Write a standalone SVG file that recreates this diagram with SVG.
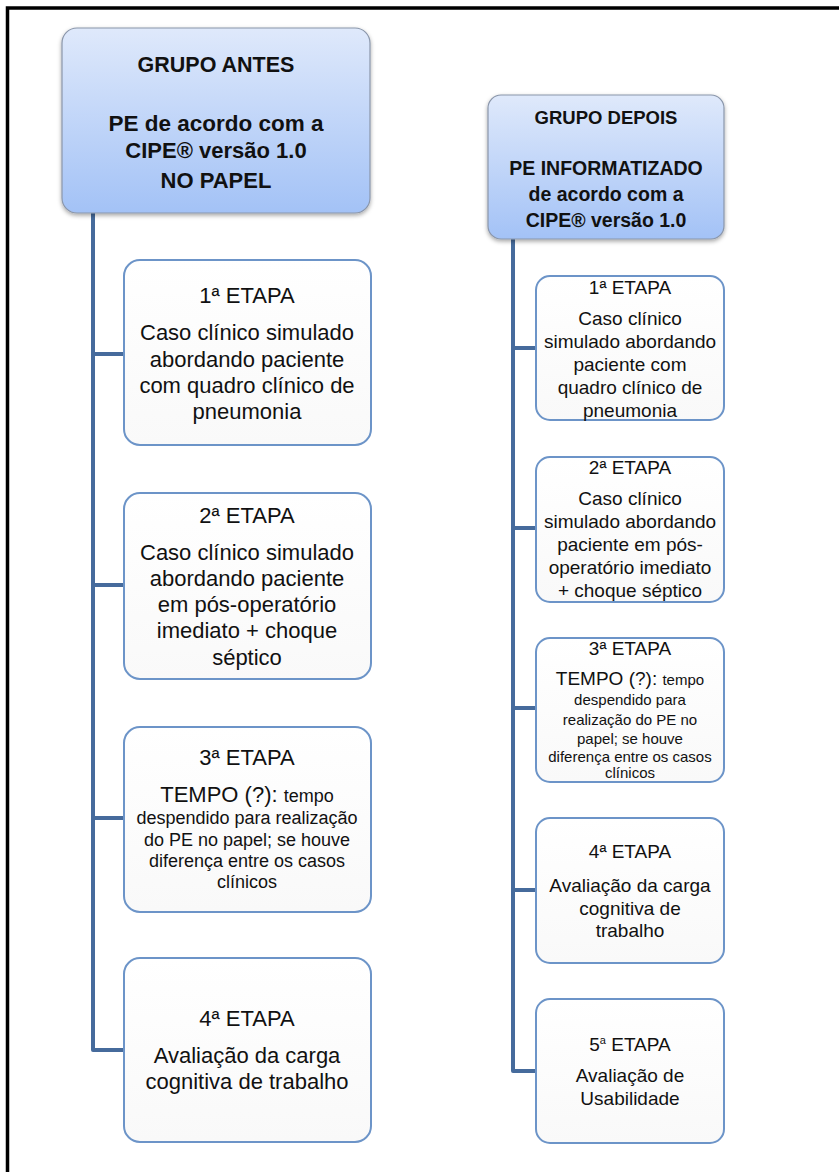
<svg xmlns="http://www.w3.org/2000/svg" width="839" height="1172" viewBox="0 0 839 1172">
<defs>
<linearGradient id="hdr" x1="0" y1="0" x2="0" y2="1">
<stop offset="0" stop-color="#dfe9fb"/>
<stop offset="1" stop-color="#a3c2f6"/>
</linearGradient>
<linearGradient id="bx" x1="0" y1="0" x2="0" y2="1">
<stop offset="0" stop-color="#ffffff"/>
<stop offset="1" stop-color="#f9f9f9"/>
</linearGradient>
<filter id="sh" x="-10%" y="-10%" width="120%" height="125%">
<feDropShadow dx="0" dy="2" stdDeviation="2" flood-color="#000" flood-opacity="0.35"/>
</filter>
</defs>
<style>
.hdr{fill:url(#hdr);stroke:#8a96aa;stroke-width:1.2;filter:url(#sh)}
.box{fill:url(#bx);stroke:#6c94c8;stroke-width:2}
.conn{fill:none;stroke:#466b9c;stroke-width:4;stroke-linejoin:round}
text{font-family:"Liberation Sans",Arial,sans-serif;fill:#111;text-anchor:middle}
.b{font-weight:bold}
</style>
<rect width="839" height="1172" fill="#fff"/>
<path d="M7.5,1172 V8 H839" fill="none" stroke="#000" stroke-width="3.5"/>

<g id="connectors">
<path class="conn" d="M93,213 V1050 H124 M93,354 H124 M93,585 H124 M93,818 H124"/>
<path class="conn" d="M513,239 V1071 H536 M513,348 H536 M513,528 H536 M513,708 H536 M513,890 H536"/>
</g>

<g id="grupo-antes">
<rect class="hdr" x="62" y="28" width="308" height="185" rx="15"/>
<text class="b" x="216" y="72" font-size="21.5">GRUPO ANTES</text>
<text class="b" x="216" y="131" font-size="22.5">PE de acordo com a</text>
<text class="b" x="216" y="158" font-size="22">CIPE® versão 1.0</text>
<text class="b" x="216" y="188" font-size="22">NO PAPEL</text>
</g>

<g id="antes-etapa1">
<rect class="box" x="124" y="260" width="247" height="185" rx="16"/>
<text x="247" y="303" font-size="22">1ª ETAPA</text>
<text x="247" y="340" font-size="22">Caso clínico simulado</text>
<text x="247" y="366.5" font-size="22">abordando paciente</text>
<text x="247" y="393" font-size="22">com quadro clínico de</text>
<text x="247" y="419" font-size="22">pneumonia</text>
</g>

<g id="antes-etapa2">
<rect class="box" x="124" y="493" width="247" height="186" rx="16"/>
<text x="247" y="523" font-size="22">2ª ETAPA</text>
<text x="247" y="560" font-size="22">Caso clínico simulado</text>
<text x="247" y="586" font-size="22">abordando paciente</text>
<text x="247" y="612" font-size="22">em pós-operatório</text>
<text x="247" y="638" font-size="22">imediato + choque</text>
<text x="247" y="665" font-size="22">séptico</text>
</g>

<g id="antes-etapa3">
<rect class="box" x="124" y="727" width="247" height="185" rx="16"/>
<text x="247" y="765" font-size="22">3ª ETAPA</text>
<text x="247" y="802" font-size="22">TEMPO (?): <tspan font-size="18">tempo</tspan></text>
<text x="247" y="824" font-size="18">despendido para realização</text>
<text x="247" y="846" font-size="18">do PE no papel; se houve</text>
<text x="247" y="867" font-size="18">diferença entre os casos</text>
<text x="247" y="888" font-size="18">clínicos</text>
</g>

<g id="antes-etapa4">
<rect class="box" x="124" y="958" width="247" height="184" rx="16"/>
<text x="247" y="1026" font-size="22">4ª ETAPA</text>
<text x="247" y="1063" font-size="22">Avaliação da carga</text>
<text x="247" y="1089" font-size="22">cognitiva de trabalho</text>
</g>

<g id="grupo-depois">
<rect class="hdr" x="488" y="95" width="236" height="144" rx="13"/>
<text class="b" x="606" y="124" font-size="18.5">GRUPO DEPOIS</text>
<text class="b" x="606" y="175" font-size="19.5">PE INFORMATIZADO</text>
<text class="b" x="606" y="201" font-size="19.5">de acordo com a</text>
<text class="b" x="606" y="227" font-size="19.5">CIPE® versão 1.0</text>
</g>

<g id="depois-etapa1">
<rect class="box" x="536" y="276" width="188" height="144" rx="14"/>
<text x="630" y="294" font-size="19">1ª ETAPA</text>
<text x="630" y="325" font-size="19">Caso clínico</text>
<text x="630" y="348" font-size="19">simulado abordando</text>
<text x="630" y="371" font-size="19">paciente com</text>
<text x="630" y="394" font-size="19">quadro clínico de</text>
<text x="630" y="417" font-size="19">pneumonia</text>
</g>

<g id="depois-etapa2">
<rect class="box" x="536" y="457" width="188" height="145" rx="14"/>
<text x="630" y="474" font-size="19">2ª ETAPA</text>
<text x="630" y="505" font-size="19">Caso clínico</text>
<text x="630" y="528" font-size="19">simulado abordando</text>
<text x="630" y="551" font-size="19">paciente em pós-</text>
<text x="630" y="574" font-size="19">operatório imediato</text>
<text x="630" y="597" font-size="19">+ choque séptico</text>
</g>

<g id="depois-etapa3">
<rect class="box" x="536" y="638" width="188" height="144" rx="14"/>
<text x="630" y="655" font-size="19">3ª ETAPA</text>
<text x="630" y="685" font-size="19">TEMPO (?): <tspan font-size="15">tempo</tspan></text>
<text x="630" y="705" font-size="15">despendido para</text>
<text x="630" y="725" font-size="15">realização do PE no</text>
<text x="630" y="744" font-size="15">papel; se houve</text>
<text x="630" y="762" font-size="15">diferença entre os casos</text>
<text x="630" y="778" font-size="15">clínicos</text>
</g>

<g id="depois-etapa4">
<rect class="box" x="536" y="818" width="188" height="145" rx="14"/>
<text x="630" y="858" font-size="19">4ª ETAPA</text>
<text x="630" y="892" font-size="19">Avaliação da carga</text>
<text x="630" y="915" font-size="19">cognitiva de</text>
<text x="630" y="937" font-size="19">trabalho</text>
</g>

<g id="depois-etapa5">
<rect class="box" x="536" y="999" width="188" height="144" rx="14"/>
<text x="630" y="1051" font-size="19">5<tspan font-size="11" dy="-7">a</tspan><tspan dy="7"> ETAPA</tspan></text>
<text x="630" y="1082" font-size="19">Avaliação de</text>
<text x="630" y="1105" font-size="19">Usabilidade</text>
</g>
</svg>
